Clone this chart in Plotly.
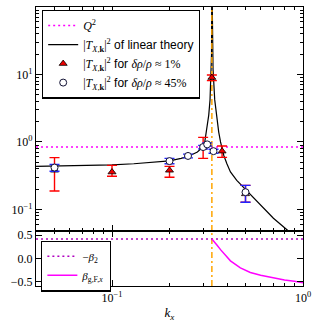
import math
import plotly.graph_objects as go
from plotly.subplots import make_subplots

# ---- data ----
k_res = 1/3
Q2 = 0.84
minus_beta2 = 0.42

lin_left_kx = [0.04, 0.06, 0.08, 0.1, 0.13, 0.16, 0.2, 0.23, 0.25, 0.28, 0.3, 0.306, 0.315, 0.321, 0.326, 0.33, 0.332, 0.3333]
lin_left_T = [0.435, 0.443, 0.45, 0.458, 0.475, 0.495, 0.525, 0.57, 0.61, 0.71, 0.85, 1.0, 1.6, 2.5, 4.2, 9, 20, 300]
lin_right_kx = [0.3334, 0.335, 0.338, 0.345, 0.352, 0.362, 0.37, 0.377, 0.385, 0.4, 0.417, 0.45, 0.5, 0.6, 0.7, 0.83, 1.0]
lin_right_T = [300, 30, 12, 4.2, 2.5, 1.4, 1.0, 0.78, 0.63, 0.47, 0.36, 0.27, 0.198, 0.115, 0.074, 0.049, 0.031]

red_kx = [0.05, 0.1, 0.2, 0.3, 0.3333, 0.377, 0.5]
red_T = [0.38, 0.358, 0.38, 0.83, 9.0, 0.73, 0.17]
red_up = [0.206, 0.092, 0.055, 0.34, 0.8, 0.14, 0.057]
red_dn = [0.193, 0.048, 0.08, 0.26, 0.9, 0.14, 0.042]

blue_kx = [0.05, 0.2, 0.25, 0.3, 0.315, 0.34, 0.5]
blue_T = [0.417, 0.52, 0.62, 0.84, 0.92, 0.73, 0.18]
blue_up = [0.045, 0.05, 0.04, 0.05, 0.05, 0.05, 0.047]
blue_dn = [0.05, 0.045, 0.04, 0.05, 0.05, 0.05, 0.052]

beta_kx = [0.3333, 0.34, 0.355, 0.37, 0.39, 0.417, 0.47, 0.53, 0.6, 0.7, 0.8, 0.9, 1.0]
beta_val = [0.42, 0.37, 0.285, 0.19, 0.08, -0.05, -0.2, -0.3, -0.36, -0.42, -0.46, -0.49, -0.52]

x_range = [0.04, 1.0]
y_top_range = [10**-1.32, 100]
y_bot_range = [-0.59, 0.59]

top_tickvals = [0.1, 1, 10, 100]
top_ticktext = ["10<sup>−1</sup>", "10<sup>0</sup>", "10<sup>1</sup>", "10<sup>2</sup>"]
x_tickvals = [0.1, 1]
x_ticktext = ["10<sup>−1</sup>", "10<sup>0</sup>"]
bot_tickvals = [-0.5, 0.0, 0.5]
bot_ticktext = ["−0.5", "0.0", "0.5"]

SERIF = "Liberation Serif"
SANS = "Liberation Sans"
T = "|<i>T</i><sub><i>X</i>,<b>k</b></sub>|<sup>2</sup>"
DOT = "2px,3px"

def sans(s):
    return f'<span style="font-family:{SANS}">{s}</span>'

fig = make_subplots(rows=2, cols=1, shared_xaxes=True, vertical_spacing=0,
                    row_heights=[224/279, 55/279])

fig.add_trace(go.Scatter(x=x_range, y=[Q2, Q2], mode="lines",
                         line=dict(color="#ff00ff", width=1.5, dash=DOT),
                         name="<i>Q</i><sup>2</sup>", legend="legend"), row=1, col=1)
fig.add_trace(go.Scatter(x=lin_left_kx, y=lin_left_T, mode="lines",
                         line=dict(color="black", width=1.2),
                         name=T + sans(" of linear theory"), legend="legend",
                         legendgroup="lin"), row=1, col=1)
fig.add_trace(go.Scatter(x=lin_right_kx, y=lin_right_T, mode="lines",
                         line=dict(color="black", width=1.2), showlegend=False,
                         legendgroup="lin"), row=1, col=1)
for r, yr in ((1, y_top_range), (2, y_bot_range)):
    fig.add_trace(go.Scatter(x=[k_res, k_res], y=yr, mode="lines",
                             line=dict(color="orange", width=1.5, dash="6px,3px,2px,3px"),
                             showlegend=False), row=r, col=1)
fig.add_trace(go.Scatter(x=red_kx, y=red_T, mode="markers",
                         marker=dict(symbol="triangle-up", size=7, color="#ee0000",
                                     line=dict(color="black", width=0.8)),
                         error_y=dict(type="data", array=red_up, arrayminus=red_dn,
                                      color="#ff0000", thickness=1.4, width=5),
                         name=T + sans(" for ") + "<i>δρ</i>/<i>ρ</i> ≈ 1%", legend="legend"),
              row=1, col=1)
fig.add_trace(go.Scatter(x=blue_kx, y=blue_T, mode="markers",
                         marker=dict(symbol="circle", size=7, color="white",
                                     line=dict(color="#111133", width=1)),
                         error_y=dict(type="data", array=blue_up, arrayminus=blue_dn,
                                      color="#2222ff", thickness=1.4, width=5),
                         name=T + sans(" for ") + "<i>δρ</i>/<i>ρ</i> ≈ 45%", legend="legend"),
              row=1, col=1)

fig.add_trace(go.Scatter(x=x_range, y=[minus_beta2, minus_beta2], mode="lines",
                         line=dict(color="#b000c0", width=1.5, dash=DOT),
                         name="−<i>β</i><sub>2</sub>", legend="legend2"), row=2, col=1)
fig.add_trace(go.Scatter(x=beta_kx, y=beta_val, mode="lines",
                         line=dict(color="#ff00ff", width=1.5),
                         name="<i>β</i><sub>g,F,<i>x</i></sub>", legend="legend2"), row=2, col=1)

axis_common = dict(showline=True, linecolor="black", linewidth=1.3, mirror="allticks",
                   ticks="inside", ticklen=6, tickwidth=1, tickcolor="black",
                   showgrid=False, zeroline=False, automargin=False,
                   tickfont=dict(family=SERIF, size=12, color="black"))
minor_x = [0.05, 0.06, 0.07, 0.08, 0.09, 0.2, 0.3, 0.4, 0.5, 0.6, 0.7, 0.8, 0.9]
minor_y = [0.06, 0.07, 0.08, 0.09, 0.2, 0.3, 0.4, 0.5, 0.6, 0.7, 0.8, 0.9,
           2, 3, 4, 5, 6, 7, 8, 9, 20, 30, 40, 50, 60, 70, 80, 90]

xr = [math.log10(x_range[0]), math.log10(x_range[1])]
fig.update_xaxes(type="log", range=xr, tickvals=x_tickvals, ticktext=x_ticktext,
                 minor=dict(tickvals=minor_x, ticks="inside", ticklen=3, tickcolor="black"),
                 **axis_common)
fig.update_xaxes(showticklabels=False, row=1, col=1)
fig.update_xaxes(title=dict(text="<i>k</i><sub><i>x</i></sub>",
                            font=dict(family=SERIF, size=13, color="black"), standoff=4),
                 row=2, col=1)
fig.update_yaxes(type="log", range=[math.log10(y_top_range[0]), math.log10(y_top_range[1])],
                 tickvals=top_tickvals, ticktext=top_ticktext,
                 minor=dict(tickvals=minor_y, ticks="inside", ticklen=3, tickcolor="black"),
                 row=1, col=1, **axis_common)
fig.update_yaxes(range=y_bot_range, tickvals=bot_tickvals, ticktext=bot_ticktext,
                 row=2, col=1, **axis_common)

legend_common = dict(bgcolor="white", bordercolor="black", borderwidth=1.3,
                     xanchor="left", yanchor="top", tracegroupgap=0)
fig.update_layout(
    width=312, height=324,
    margin=dict(l=36, r=9, t=7, b=38, autoexpand=False),
    paper_bgcolor="white", plot_bgcolor="white",
    showlegend=True,
    legend=dict(x=0.022, y=0.99, font=dict(family=SERIF, size=12, color="black"),
                **legend_common),
    legend2=dict(x=0.019, y=0.163, font=dict(family=SERIF, size=11, color="black"),
                 **legend_common),
)

fig.write_html("out.html", config={"displayModeBar": False},
               post_script="document.body.style.margin='0';document.body.style.overflow='hidden';")
